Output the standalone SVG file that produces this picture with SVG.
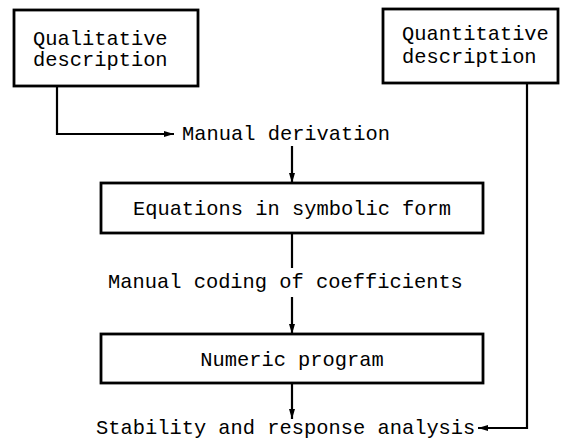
<svg xmlns="http://www.w3.org/2000/svg" width="561" height="441" viewBox="0 0 561 441">
<style>
.box{fill:#fff;stroke:#000;stroke-width:2.8}
.t{font-family:"Liberation Mono","DejaVu Sans Mono",monospace;font-size:20.4px;fill:#000}
.ln{fill:none;stroke:#000;stroke-width:2.2}
</style>
<defs>
<marker id="ah" viewBox="0 0 10 6" refX="10" refY="3" markerWidth="10" markerHeight="6" markerUnits="userSpaceOnUse" orient="auto">
<path d="M0,0 L10,3 L0,6 Z" fill="#000"/>
</marker>
</defs>
<rect width="561" height="441" fill="#fff"/>
<g id="connectors">
<path class="ln" d="M57,86 V134 H174" marker-end="url(#ah)"/>
<path class="ln" d="M292,146 V183" marker-end="url(#ah)"/>
<path class="ln" d="M292,233 V268"/>
<path class="ln" d="M292,297 V334" marker-end="url(#ah)"/>
<path class="ln" d="M292,383 V419" marker-end="url(#ah)"/>
<path class="ln" d="M527,83 V428 H478" marker-end="url(#ah)"/>
</g>
<g id="qualitative">
<rect class="box" x="14" y="10" width="184" height="76"/>
<text class="t" x="33" y="45">Qualitative</text>
<text class="t" x="33" y="66">description</text>
</g>
<g id="quantitative">
<rect class="box" x="383" y="9" width="175" height="74"/>
<text class="t" x="402" y="40">Quantitative</text>
<text class="t" x="402" y="63">description</text>
</g>
<g id="manual-derivation">
<text class="t" x="182" y="140">Manual derivation</text>
</g>
<g id="equations">
<rect class="box" x="101" y="183" width="382" height="50"/>
<text class="t" x="292" y="215" text-anchor="middle">Equations in symbolic form</text>
</g>
<g id="manual-coding">
<text class="t" x="108" y="288">Manual coding of coefficients</text>
</g>
<g id="numeric">
<rect class="box" x="101" y="334" width="382" height="49"/>
<text class="t" x="292" y="366" text-anchor="middle">Numeric program</text>
</g>
<g id="stability">
<text class="t" x="96" y="434">Stability and response analysis</text>
</g>
</svg>
